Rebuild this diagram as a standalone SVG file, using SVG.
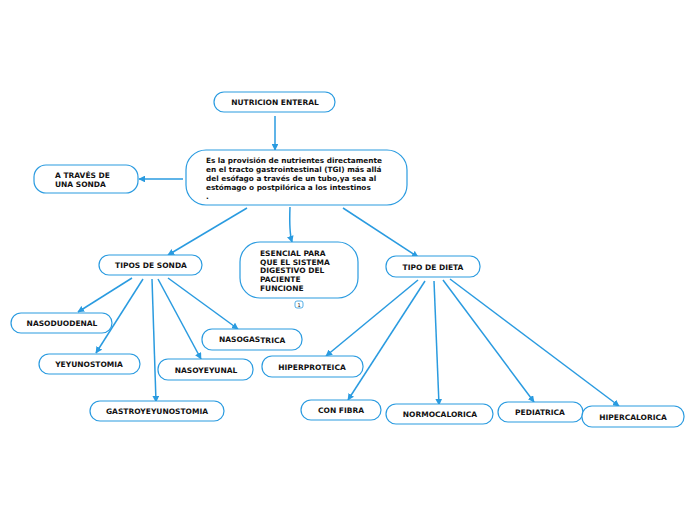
<svg xmlns="http://www.w3.org/2000/svg" width="696" height="520" viewBox="0 0 696 520">
<defs>
<marker id="ah" viewBox="0 0 10 10" refX="9" refY="5" markerWidth="4.5" markerHeight="4.5" orient="auto" markerUnits="strokeWidth">
<path d="M0,0 L10,5 L0,10 z" fill="#2a9be0"/>
</marker>
</defs>
<style>
.n rect{fill:#fff;stroke:#2a9be0;stroke-width:1.2}
.n text{font-family:"DejaVu Sans",Verdana,sans-serif;font-weight:bold;font-size:7.5px;fill:#111}
.n text.d{font-size:7.3px}
.c{text-anchor:middle}
#edges path{fill:none;stroke:#2a9be0;stroke-width:1.5;marker-end:url(#ah)}
</style>
<rect width="696" height="520" fill="#fff"/>
<g id="edges">
<path d="M275,116 L275,150"/>
<path d="M183,179 L139,179"/>
<path d="M247,208 L168,255"/>
<path d="M290,207 Q289,232 292,242"/>
<path d="M343,208 L418,257"/>
<path d="M132,278 L78,312"/>
<path d="M143,279 L96,353"/>
<path d="M152,279 L156,402"/>
<path d="M158,279 L201,359"/>
<path d="M168,278 L238,329"/>
<path d="M418,280 L326,356"/>
<path d="M425,281 L348,400"/>
<path d="M434,281 L439,405"/>
<path d="M443,280 L534,402"/>
<path d="M450,279 L619,406"/>
</g>
<g id="nutricion" class="n"><rect x="214" y="92" width="121" height="20" rx="10"/><text class="c" x="275" y="105">NUTRICION ENTERAL</text></g>
<g id="definicion" class="n"><rect x="186" y="150" width="221" height="55" rx="20"/>
<text class="d" x="206" y="163">Es la provisión de nutrientes directamente</text>
<text class="d" x="206" y="172">en el tracto gastrointestinal (TGI) más allá</text>
<text class="d" x="206" y="181">del esófago a través de un tubo,ya sea al</text>
<text class="d" x="206" y="190">estómago o postpilórica a los intestinos</text>
<text class="d" x="206" y="199">.</text></g>
<g id="atraves" class="n"><rect x="34" y="165" width="104" height="28" rx="12"/><text x="55" y="178">A TRAVÉS DE</text><text x="55" y="187">UNA SONDA</text></g>
<g id="esencial" class="n"><rect x="240" y="242" width="118" height="56" rx="20"/>
<text x="260" y="256">ESENCIAL PARA</text><text x="260" y="265">QUE EL SISTEMA</text><text x="260" y="273">DIGESTIVO DEL</text><text x="260" y="282">PACIENTE</text><text x="260" y="291">FUNCIONE</text>
<rect x="295" y="301" width="8" height="7" rx="2" style="stroke-width:0.8"/><text class="c" x="299" y="307" style="font-size:5px;font-weight:normal">1</text></g>
<g id="tipos-sonda" class="n"><rect x="99" y="255" width="103" height="20" rx="10"/><text class="c" x="151" y="268">TIPOS DE SONDA</text></g>
<g id="tipo-dieta" class="n"><rect x="386" y="256" width="94" height="21" rx="10"/><text class="c" x="433" y="270">TIPO DE DIETA</text></g>
<g id="nasoduodenal" class="n"><rect x="11" y="313" width="101" height="20" rx="10"/><text class="c" x="62" y="326">NASODUODENAL</text></g>
<g id="yeyunostomia" class="n"><rect x="39" y="354" width="101" height="20" rx="10"/><text class="c" x="89" y="367">YEYUNOSTOMIA</text></g>
<g id="gastroyeyunostomia" class="n"><rect x="90" y="401" width="134" height="20" rx="10"/><text class="c" x="157" y="414">GASTROYEYUNOSTOMIA</text></g>
<g id="nasoyeyunal" class="n"><rect x="158" y="359" width="95" height="21" rx="10"/><text class="c" x="206" y="373">NASOYEYUNAL</text></g>
<g id="nasogastrica" class="n"><rect x="202" y="329" width="100" height="21" rx="10"/><text x="219" y="342">NASOGAS<tspan dy="1">TRICA</tspan></text></g>
<g id="hiperproteica" class="n"><rect x="262" y="356" width="101" height="21" rx="10"/><text class="c" x="312" y="370">HIPERPROTEICA</text></g>
<g id="con-fibra" class="n"><rect x="301" y="400" width="80" height="20" rx="10"/><text class="c" x="341" y="413">CON FIBRA</text></g>
<g id="normocalorica" class="n"><rect x="386" y="404" width="107" height="20" rx="10"/><text class="c" x="440" y="417">NORMOCALORICA</text></g>
<g id="pediatrica" class="n"><rect x="498" y="402" width="85" height="20" rx="10"/><text class="c" x="540" y="415">PEDIATRICA</text></g>
<g id="hipercalorica" class="n"><rect x="582" y="406" width="102" height="21" rx="10"/><text class="c" x="633" y="420">HIPERCALORICA</text></g>
</svg>
